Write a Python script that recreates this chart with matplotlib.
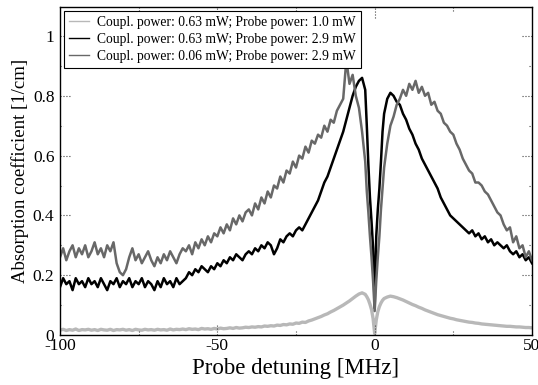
import numpy as np
import matplotlib
matplotlib.use("Agg")
import matplotlib.pyplot as plt

plt.rcParams['font.family'] = ['Liberation Serif', 'DejaVu Serif']
plt.rcParams['axes.unicode_minus'] = False
plt.rcParams['mathtext.fontset'] = 'stix'

# Probe detuning grid [MHz]
detuning = (list(range(-100, -2))
            + [-2.5, -2, -1.5, -1, -0.5, 0, 0.5, 1, 1.5, 2, 2.5]
            + list(range(3, 51)))

# Coupl. 0.63 mW; Probe 1.0 mW (light gray)
alpha_light = [
    0.016, 0.019, 0.015, 0.018, 0.016, 0.020, 0.015, 0.018, 0.017, 0.019,
    0.016, 0.018, 0.015, 0.019, 0.017, 0.016, 0.019, 0.015, 0.018, 0.017,
    0.019, 0.016, 0.018, 0.015, 0.019, 0.017, 0.016, 0.019, 0.017, 0.018,
    0.016, 0.019, 0.017, 0.018, 0.016, 0.020, 0.017, 0.019, 0.018, 0.020,
    0.018, 0.021, 0.019, 0.020, 0.018, 0.022, 0.020, 0.021, 0.019, 0.022,
    0.020, 0.023, 0.021, 0.022, 0.024, 0.022, 0.025, 0.023, 0.024, 0.026,
    0.025, 0.027, 0.026, 0.028, 0.027, 0.030, 0.029, 0.031, 0.030, 0.033,
    0.032, 0.035, 0.034, 0.037, 0.036, 0.040, 0.039, 0.043, 0.042, 0.047,
    0.050, 0.054, 0.058, 0.062, 0.067, 0.071, 0.077, 0.082, 0.088, 0.094,
    0.100, 0.107, 0.114, 0.122, 0.130, 0.137, 0.141, 0.136,
    0.128, 0.118, 0.103, 0.085, 0.055, 0.005, 0.050, 0.078, 0.095, 0.107, 0.116,
    0.122, 0.127, 0.130, 0.128, 0.125, 0.121, 0.117, 0.112, 0.107, 0.102,
    0.098, 0.093, 0.089, 0.084, 0.080, 0.076, 0.072, 0.068, 0.065, 0.062,
    0.059, 0.056, 0.054, 0.051, 0.049, 0.047, 0.045, 0.043, 0.042, 0.040,
    0.039, 0.037, 0.036, 0.035, 0.034, 0.033, 0.032, 0.031, 0.030, 0.029,
    0.029, 0.028, 0.027, 0.027, 0.026, 0.025, 0.025, 0.024,
]

# Coupl. 0.63 mW; Probe 2.9 mW (black)
alpha_black = [
    0.16, 0.19, 0.17, 0.18, 0.15, 0.19, 0.17, 0.18, 0.16, 0.19,
    0.17, 0.18, 0.16, 0.19, 0.17, 0.15, 0.18, 0.17, 0.19, 0.16,
    0.18, 0.17, 0.19, 0.16, 0.18, 0.17, 0.19, 0.16, 0.18, 0.17,
    0.15, 0.18, 0.16, 0.19, 0.17, 0.18, 0.16, 0.19, 0.17, 0.18,
    0.19, 0.21, 0.20, 0.22, 0.21, 0.23, 0.22, 0.21, 0.23, 0.22,
    0.24, 0.23, 0.25, 0.24, 0.26, 0.25, 0.27, 0.26, 0.25, 0.27,
    0.28, 0.27, 0.29, 0.28, 0.30, 0.29, 0.31, 0.30, 0.27, 0.29,
    0.32, 0.31, 0.33, 0.34, 0.33, 0.35, 0.36, 0.35, 0.37, 0.39,
    0.41, 0.43, 0.45, 0.48, 0.51, 0.53, 0.56, 0.59, 0.62, 0.65,
    0.68, 0.72, 0.76, 0.80, 0.83, 0.85, 0.86, 0.82,
    0.70, 0.57, 0.46, 0.38, 0.29, 0.09, 0.33, 0.42, 0.49, 0.58, 0.68,
    0.74, 0.79, 0.81, 0.80, 0.78, 0.77, 0.74, 0.72, 0.69, 0.67,
    0.64, 0.62, 0.59, 0.57, 0.55, 0.53, 0.51, 0.49, 0.46, 0.44,
    0.42, 0.40, 0.39, 0.38, 0.37, 0.36, 0.35, 0.34, 0.35, 0.33,
    0.34, 0.32, 0.33, 0.31, 0.32, 0.30, 0.31, 0.30, 0.29, 0.30,
    0.28, 0.27, 0.28, 0.26, 0.27, 0.25, 0.26, 0.24,
]

# Coupl. 0.06 mW; Probe 2.9 mW (medium gray)
alpha_gray = [
    0.26, 0.29, 0.25, 0.28, 0.30, 0.26, 0.29, 0.27, 0.30, 0.26,
    0.28, 0.31, 0.27, 0.29, 0.26, 0.30, 0.28, 0.31, 0.24, 0.21,
    0.20, 0.22, 0.26, 0.29, 0.25, 0.27, 0.24, 0.26, 0.28, 0.25,
    0.23, 0.26, 0.24, 0.27, 0.25, 0.28, 0.26, 0.24, 0.27, 0.29,
    0.28, 0.30, 0.27, 0.31, 0.29, 0.32, 0.30, 0.33, 0.31, 0.34,
    0.33, 0.36, 0.34, 0.37, 0.35, 0.39, 0.37, 0.40, 0.38, 0.41,
    0.42, 0.40, 0.44, 0.42, 0.46, 0.44, 0.48, 0.46, 0.50, 0.49,
    0.53, 0.51, 0.55, 0.54, 0.58, 0.56, 0.60, 0.59, 0.63, 0.61,
    0.65, 0.64, 0.67, 0.66, 0.70, 0.68, 0.72, 0.71, 0.75, 0.77,
    0.79, 0.92, 0.84, 0.87, 0.80, 0.76, 0.68, 0.58,
    0.48, 0.41, 0.33, 0.26, 0.18, 0.08, 0.18, 0.26, 0.33, 0.42, 0.49,
    0.56, 0.64, 0.70, 0.73, 0.77, 0.79, 0.82, 0.80, 0.84, 0.82,
    0.85, 0.81, 0.83, 0.80, 0.81, 0.77, 0.78, 0.75, 0.74, 0.71,
    0.70, 0.68, 0.67, 0.64, 0.62, 0.59, 0.57, 0.55, 0.54, 0.51,
    0.51, 0.50, 0.48, 0.47, 0.45, 0.43, 0.41, 0.40, 0.37, 0.35,
    0.36, 0.31, 0.33, 0.29, 0.30, 0.26, 0.28, 0.25,
]

labels = [
    "Coupl. power: 0.63 mW; Probe power: 1.0 mW",
    "Coupl. power: 0.63 mW; Probe power: 2.9 mW",
    "Coupl. power: 0.06 mW; Probe power: 2.9 mW",
]

fig = plt.figure(figsize=(5.38, 3.85), dpi=100)
ax = fig.add_axes([60/538, 1-335/385, 472/538, 328/385])

ax.plot(detuning, alpha_light, color='#b8b8b8', lw=2.4, label=labels[0])
ax.plot(detuning, alpha_black, color='black', lw=1.8, label=labels[1])
ax.plot(detuning, alpha_gray, color='#686868', lw=1.8, label=labels[2])

ax.set_xlim(-100, 50)
ax.set_ylim(0, 1.097)

xt = [-100, -50, 0, 50]
ax.set_xticks(xt)
ax.set_xticklabels([str(v) for v in xt])
yt = [0, 0.2, 0.4, 0.6, 0.8, 1.0]
ax.set_yticks(yt)
ax.set_yticklabels(["0", "0.2", "0.4", "0.6", "0.8", "1"])
ax.tick_params(length=0, labelsize=12.5)
ax.tick_params(axis='x', pad=2)
ax.tick_params(axis='y', pad=4)

# dotted inward ticks
xtr = ax.get_xaxis_transform()
ytr = ax.get_yaxis_transform()
for v in [-75, -50, -25, 0, 25]:
    L = 0.035 if v in (-50, 0) else 0.012
    ax.plot([v, v], [0, L], transform=xtr, color='#444444', lw=0.8, ls=':', clip_on=False)
    ax.plot([v, v], [1 - L, 1], transform=xtr, color='#444444', lw=0.8, ls=':', clip_on=False)
for v in [0.1, 0.2, 0.3, 0.4, 0.5, 0.6, 0.7, 0.8, 0.9, 1.0]:
    major = abs(v * 5 - round(v * 5)) < 1e-6
    L = 0.022 if major else 0.006
    ax.plot([0, L], [v, v], transform=ytr, color='#444444', lw=0.8, ls=':', clip_on=False)
    ax.plot([1 - L, 1], [v, v], transform=ytr, color='#444444', lw=0.8, ls=':', clip_on=False)

ax.set_xlabel("Probe detuning [MHz]", fontsize=16.5, labelpad=3)
ax.set_ylabel("Absorption coefficient [1/cm]", fontsize=13.5, labelpad=3)

for s in ax.spines.values():
    s.set_linewidth(1.0)

leg = ax.legend(loc='upper left', fontsize=9.8, frameon=True, fancybox=False,
                edgecolor='black', framealpha=1, handlelength=1.5,
                handletextpad=0.6, borderaxespad=0.3, labelspacing=0.3,
                borderpad=0.35)
leg.get_frame().set_linewidth(0.8)
for ln in leg.get_lines():
    ln.set_linewidth(1.0)

fig.savefig("out.png", dpi=100)
